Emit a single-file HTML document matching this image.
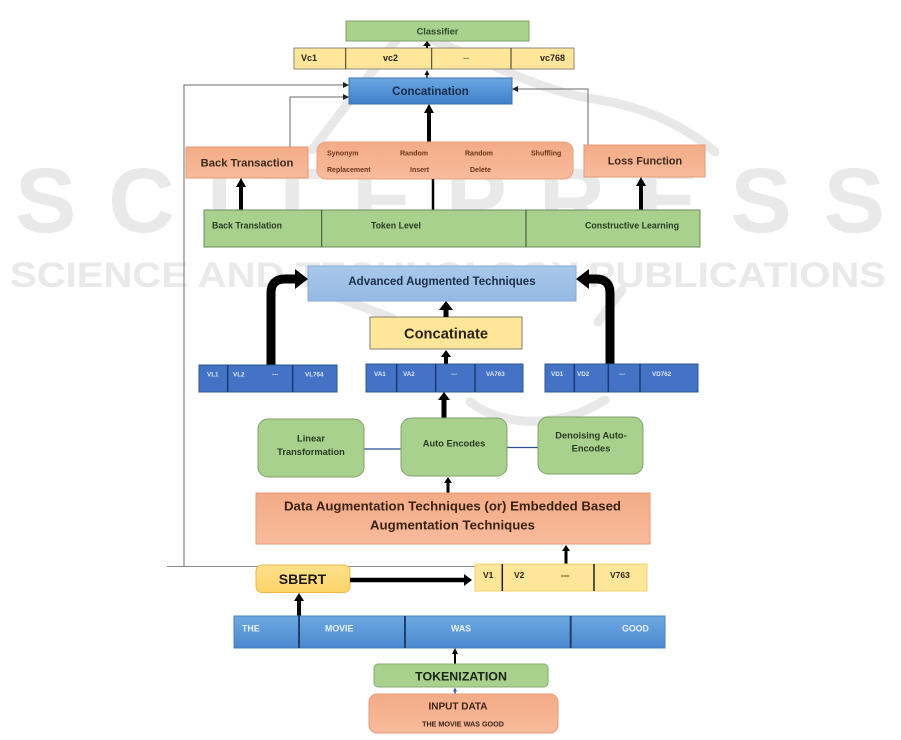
<!DOCTYPE html>
<html>
<head>
<meta charset="utf-8">
<style>
  html,body{margin:0;padding:0;background:#fff;}
  body{width:901px;height:740px;overflow:hidden;}
  svg{display:block;}
  text{font-family:"Liberation Sans", Arial, sans-serif;}
</style>
</head>
<body>
<svg width="901" height="740" viewBox="0 0 901 740" xmlns="http://www.w3.org/2000/svg">
  <defs>
    <linearGradient id="gBlue" x1="0" y1="0" x2="0" y2="1">
      <stop offset="0" stop-color="#6aa7e2"/>
      <stop offset="1" stop-color="#3f80c9"/>
    </linearGradient>
    <linearGradient id="gWord" x1="0" y1="0" x2="0" y2="1">
      <stop offset="0" stop-color="#6ea9e2"/>
      <stop offset="1" stop-color="#4a88cf"/>
    </linearGradient>
    <linearGradient id="gAdv" x1="0" y1="0" x2="0" y2="1">
      <stop offset="0" stop-color="#a9c9ea"/>
      <stop offset="1" stop-color="#94b9e3"/>
    </linearGradient>
    <linearGradient id="gSal" x1="0" y1="0" x2="0" y2="1">
      <stop offset="0" stop-color="#f4ab86"/>
      <stop offset="1" stop-color="#f7bb9c"/>
    </linearGradient>
    <linearGradient id="gSbert" x1="0" y1="0" x2="0" y2="1">
      <stop offset="0" stop-color="#ffe08a"/>
      <stop offset="1" stop-color="#fdd46a"/>
    </linearGradient>
  </defs>

  <rect x="0" y="0" width="901" height="740" fill="#ffffff"/>

  <!-- Watermark -->
  <g fill="none" stroke="#e8e8e8" stroke-width="9" stroke-linecap="round">
    <path d="M312,150 L398,38"/>
    <path d="M432,40 C490,62 540,92 600,100 C650,108 690,130 715,152"/>
    <path d="M470,402 C505,428 560,428 605,400"/>
    <path d="M318,290 L392,318"/>
    <path d="M598,322 L622,290"/>
  </g>
  <text x="15" y="232" font-size="92" font-weight="bold" fill="#e9e9e9" textLength="870" lengthAdjust="spacing">SCITEPRESS</text>
  <text x="10" y="287" font-size="35" font-weight="bold" fill="#e9e9e9" textLength="876" lengthAdjust="spacingAndGlyphs">SCIENCE AND TECHNOLOGY PUBLICATIONS</text>

  <!-- Feedback lines -->
  <g fill="none" stroke="#6a6a6a" stroke-width="1">
    <polyline points="184,566 184,85 344,85"/>
    <polyline points="290,147 290,97 344,97"/>
    <polyline points="588,145 588,89 517,89"/>
  </g>
  <line x1="167" y1="566.5" x2="475" y2="566.5" stroke="#8a8a8a" stroke-width="1"/>
  <polygon points="343,82 343,88 349,85" fill="#222"/>
  <polygon points="343,94 343,100 349,97" fill="#222"/>
  <polygon points="518,86 518,92 512,89" fill="#222"/>

  <!-- Classifier -->
  <rect x="346" y="21" width="183" height="20" fill="#a9d18e" stroke="#7f9f6f" stroke-width="1"/>
  <text x="437.5" y="34.5" font-size="9.3" font-weight="bold" fill="#2f4a2a" text-anchor="middle">Classifier</text>

  <!-- Vc row -->
  <rect x="294" y="48" width="280" height="21" fill="#ffe699" stroke="#8a8a7a" stroke-width="1"/>
  <g stroke="#333" stroke-width="1">
    <line x1="345.7" y1="48" x2="345.7" y2="69"/>
    <line x1="431.7" y1="48" x2="431.7" y2="69"/>
    <line x1="511" y1="48" x2="511" y2="69"/>
  </g>
  <g font-size="9" font-weight="bold" fill="#2a2418">
    <text x="301" y="61">Vc1</text>
    <text x="383" y="61">vc2</text>
    <text x="463" y="61" fill="#8a7a50">--</text>
    <text x="540" y="61">vc768</text>
  </g>
  <!-- small arrows -->
  <line x1="427" y1="48" x2="427" y2="45" stroke="#111" stroke-width="2"/>
  <polygon points="423,46 431,46 427,41" fill="#111"/>
  <line x1="427" y1="78" x2="427" y2="74" stroke="#111" stroke-width="1.5"/>
  <polygon points="424.5,75 429.5,75 427,70" fill="#111"/>

  <!-- Concatination -->
  <rect x="349" y="78" width="163" height="26" fill="url(#gBlue)" stroke="#3a70b0" stroke-width="1"/>
  <text x="430.5" y="95" font-size="11.5" font-weight="bold" fill="#1b2a48" text-anchor="middle">Concatination</text>

  <!-- Token -> Concat -->
  <line x1="429" y1="142" x2="429" y2="112" stroke="#000" stroke-width="4"/>
  <polygon points="424,113 434,113 429,104" fill="#000"/>

  <!-- Back Transaction -->
  <rect x="186" y="147" width="122" height="31" fill="url(#gSal)" stroke="#e39a73" stroke-width="1"/>
  <text x="247" y="166.5" font-size="11.2" font-weight="bold" fill="#3b2a20" text-anchor="middle">Back Transaction</text>

  <!-- Token options box -->
  <rect x="317" y="142" width="256" height="37" rx="9" ry="9" fill="url(#gSal)" stroke="#eba27f" stroke-width="1"/>
  <g font-size="7" font-weight="bold" fill="#6a3518">
    <text x="327" y="155.5">Synonym</text>
    <text x="400" y="155.5">Random</text>
    <text x="465" y="155.5">Random</text>
    <text x="531" y="155.5">Shuffling</text>
    <text x="327" y="172">Replacement</text>
    <text x="410" y="172">Insert</text>
    <text x="470" y="172">Delete</text>
  </g>

  <!-- Loss Function -->
  <rect x="584" y="145" width="121" height="32" fill="url(#gSal)" stroke="#e39a73" stroke-width="1"/>
  <text x="645" y="164.5" font-size="10.9" font-weight="bold" fill="#3b2a20" text-anchor="middle">Loss Function</text>

  <!-- Arrows from green row -->
  <line x1="241" y1="210" x2="241" y2="186" stroke="#000" stroke-width="4"/>
  <polygon points="236,187 246,187 241,178" fill="#000"/>
  <line x1="433" y1="210" x2="433" y2="179" stroke="#000" stroke-width="2.5"/>
  <line x1="641" y1="210" x2="641" y2="185" stroke="#000" stroke-width="4"/>
  <polygon points="636,186 646,186 641,177" fill="#000"/>

  <!-- Green row -->
  <rect x="204" y="210" width="496" height="37" fill="#a9d18e" stroke="#6d8a5e" stroke-width="1"/>
  <g stroke="#3a4a30" stroke-width="1">
    <line x1="321.7" y1="210" x2="321.7" y2="247"/>
    <line x1="526" y1="210" x2="526" y2="247"/>
  </g>
  <g font-size="9" font-weight="bold" fill="#2b3a22">
    <text x="212" y="228.5" textLength="70" lengthAdjust="spacingAndGlyphs">Back Translation</text>
    <text x="371" y="228.5" textLength="50" lengthAdjust="spacingAndGlyphs">Token Level</text>
    <text x="585" y="228.5" textLength="94" lengthAdjust="spacingAndGlyphs">Constructive Learning</text>
  </g>

  <!-- Advanced Augmented Techniques -->
  <rect x="308" y="266" width="268" height="35" fill="url(#gAdv)" stroke="#85aad6" stroke-width="1"/>
  <text x="442" y="285" font-size="11.5" font-weight="bold" fill="#1e2e4a" text-anchor="middle">Advanced Augmented Techniques</text>

  <!-- Curved arrows -->
  <path d="M271,365 L271,293 Q271,279 285,279 L296,279" fill="none" stroke="#000" stroke-width="9"/>
  <polygon points="295,269 295,289 308,279" fill="#000"/>
  <path d="M610,364 L610,293 Q610,279 596,279 L588,279" fill="none" stroke="#000" stroke-width="9"/>
  <polygon points="589,269 589,289 576,279" fill="#000"/>

  <!-- Concatinate -->
  <rect x="370" y="317" width="152" height="32" fill="#ffe699" stroke="#7f7f6f" stroke-width="1"/>
  <text x="446" y="338.5" font-size="14.7" font-weight="bold" fill="#2a2418" text-anchor="middle">Concatinate</text>
  <line x1="446" y1="317" x2="446" y2="309" stroke="#000" stroke-width="5"/>
  <polygon points="439,310 453,310 446,301" fill="#000"/>
  <line x1="446" y1="364" x2="446" y2="356" stroke="#000" stroke-width="4"/>
  <polygon points="441,357 451,357 446,350" fill="#000"/>

  <!-- Vector rows -->
  <g fill="#4472c4" stroke="#2f5597" stroke-width="1">
    <rect x="199" y="365" width="138" height="27"/>
    <rect x="366" y="364" width="157" height="28"/>
    <rect x="545" y="364" width="153" height="28"/>
  </g>
  <g stroke="#1c3a70" stroke-width="1.5">
    <line x1="227.7" y1="365" x2="227.7" y2="392"/>
    <line x1="292.7" y1="365" x2="292.7" y2="392"/>
    <line x1="396.7" y1="364" x2="396.7" y2="392"/>
    <line x1="435.7" y1="364" x2="435.7" y2="392"/>
    <line x1="475" y1="364" x2="475" y2="392"/>
    <line x1="574.3" y1="364" x2="574.3" y2="392"/>
    <line x1="608.3" y1="364" x2="608.3" y2="392"/>
    <line x1="640" y1="364" x2="640" y2="392"/>
  </g>
  <g font-size="6.3" font-weight="bold" fill="#dce6f5">
    <text x="207" y="376.5">VL1</text>
    <text x="233" y="376.5">VL2</text>
    <text x="272" y="376.5">---</text>
    <text x="305" y="376.5">VL764</text>
    <text x="374" y="376">VA1</text>
    <text x="403" y="376">VA2</text>
    <text x="451" y="376">---</text>
    <text x="486" y="376">VA763</text>
    <text x="551" y="376">VD1</text>
    <text x="577" y="376">VD2</text>
    <text x="619" y="376">---</text>
    <text x="652" y="376">VD762</text>
  </g>

  <!-- Auto -> VA -->
  <line x1="444" y1="418" x2="444" y2="399" stroke="#000" stroke-width="5"/>
  <polygon points="438,400 450,400 444,392" fill="#000"/>

  <!-- Middle green boxes -->
  <line x1="364" y1="449" x2="401" y2="449" stroke="#2f4f8f" stroke-width="1.2"/>
  <line x1="507" y1="447.5" x2="538" y2="447.5" stroke="#2f4f8f" stroke-width="1.2"/>
  <g fill="#a9d18e" stroke="#7fa06c" stroke-width="1">
    <rect x="258" y="419" width="106" height="58" rx="10" ry="10"/>
    <rect x="401" y="418" width="106" height="58" rx="10" ry="10"/>
    <rect x="538" y="417" width="105" height="57" rx="10" ry="10"/>
  </g>
  <g font-size="9.3" font-weight="bold" fill="#2b3a22" text-anchor="middle">
    <text x="311" y="441.5">Linear</text>
    <text x="311" y="455">Transformation</text>
    <text x="454" y="446.5">Auto Encodes</text>
    <text x="591" y="438.5">Denoising Auto-</text>
    <text x="591" y="451.5">Encodes</text>
  </g>

  <!-- Data Aug -> Auto -->
  <line x1="448" y1="493" x2="448" y2="482" stroke="#000" stroke-width="3"/>
  <polygon points="444,483 452,483 448,477" fill="#000"/>

  <!-- Data Augmentation box -->
  <rect x="256" y="493" width="394" height="51" fill="url(#gSal)" stroke="#e89a78" stroke-width="1"/>
  <text x="284" y="510.5" font-size="13" font-weight="bold" fill="#3a2418" textLength="337" lengthAdjust="spacingAndGlyphs">Data Augmentation Techniques (or) Embedded Based</text>
  <text x="370" y="529.5" font-size="13" font-weight="bold" fill="#3a2418" textLength="165" lengthAdjust="spacingAndGlyphs">Augmentation Techniques</text>

  <!-- V row -> Data Aug -->
  <line x1="566" y1="564" x2="566" y2="550" stroke="#000" stroke-width="3"/>
  <polygon points="562,551 570,551 566,545" fill="#000"/>

  <!-- SBERT -->
  <rect x="256" y="565" width="94" height="27.5" rx="6" ry="6" fill="url(#gSbert)" stroke="#e8b84a" stroke-width="1"/>
  <text x="302.5" y="584" font-size="14" font-weight="bold" fill="#1a1a1a" text-anchor="middle">SBERT</text>

  <!-- SBERT -> V row -->
  <line x1="350" y1="580" x2="465" y2="580" stroke="#000" stroke-width="4.5"/>
  <polygon points="464,574 464,586 472,580" fill="#000"/>

  <!-- V row -->
  <rect x="475" y="564" width="172" height="27" fill="#ffe699" stroke="#f0d070" stroke-width="1"/>
  <g stroke="#222" stroke-width="1.5">
    <line x1="502.3" y1="564" x2="502.3" y2="591"/>
    <line x1="594" y1="564" x2="594" y2="591"/>
  </g>
  <g font-size="8.5" font-weight="bold" fill="#2a2418">
    <text x="483" y="578">V1</text>
    <text x="514" y="578">V2</text>
    <text x="561" y="578">---</text>
    <text x="610" y="578">V763</text>
  </g>

  <!-- words -> SBERT -->
  <line x1="299" y1="616" x2="299" y2="600" stroke="#000" stroke-width="4"/>
  <polygon points="294,601 304,601 299,593" fill="#000"/>

  <!-- Words row -->
  <rect x="234" y="616" width="431" height="32" fill="url(#gWord)" stroke="#4a80c0" stroke-width="1"/>
  <g stroke="#1f3f70" stroke-width="2">
    <line x1="299" y1="616" x2="299" y2="648"/>
    <line x1="405" y1="616" x2="405" y2="648"/>
    <line x1="570.7" y1="616" x2="570.7" y2="648"/>
  </g>
  <g font-size="8.8" font-weight="bold" fill="#e8f0fa">
    <text x="242" y="631.5">THE</text>
    <text x="325" y="631.5">MOVIE</text>
    <text x="451" y="631.5">WAS</text>
    <text x="622" y="631.5">GOOD</text>
  </g>

  <!-- Tokenization -> words -->
  <line x1="455" y1="664" x2="455" y2="653" stroke="#000" stroke-width="2"/>
  <polygon points="452,654 458,654 455,648" fill="#000"/>

  <!-- Tokenization -->
  <rect x="374" y="664" width="174" height="23" rx="4" ry="4" fill="#a9d18e" stroke="#86ad70" stroke-width="1"/>
  <text x="461" y="680.5" font-size="12.4" font-weight="bold" fill="#1c2418" text-anchor="middle">TOKENIZATION</text>

  <!-- Input -> Tokenization -->
  <line x1="455" y1="694" x2="455" y2="691" stroke="#3b5a9a" stroke-width="1.5"/>
  <polygon points="453,691.5 457,691.5 455,687.5" fill="#3b5a9a"/>

  <!-- Input data -->
  <rect x="369" y="694" width="189" height="39" rx="8" ry="8" fill="url(#gSal)" stroke="#e89a78" stroke-width="1"/>
  <text x="458" y="709.5" font-size="10" font-weight="bold" fill="#3a2418" text-anchor="middle">INPUT DATA</text>
  <text x="463" y="726.5" font-size="7.2" font-weight="bold" fill="#3a2418" text-anchor="middle">THE MOVIE WAS GOOD</text>
</svg>
</body>
</html>
